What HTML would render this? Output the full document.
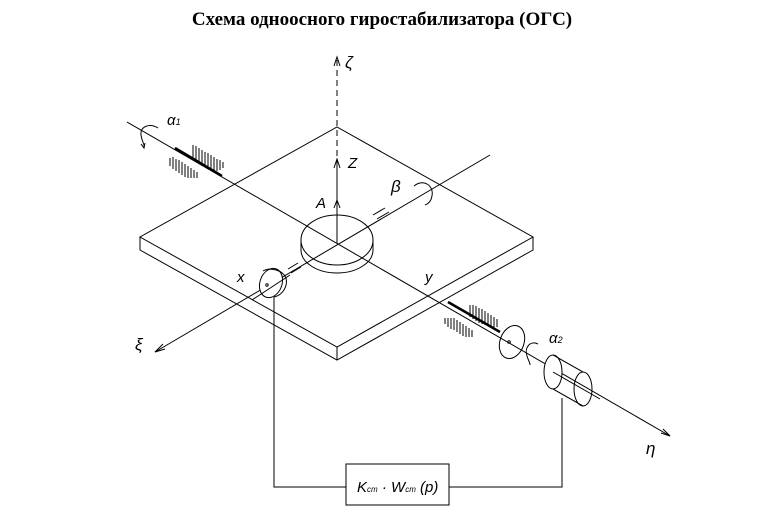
<!DOCTYPE html>
<html><head><meta charset="utf-8"><style>
body{margin:0;background:#fff;width:765px;height:513px;overflow:hidden}
svg{display:block}
text{font-family:"Liberation Sans",sans-serif;font-style:italic}
</style></head><body>
<svg width="765" height="513" viewBox="0 0 765 513" xmlns="http://www.w3.org/2000/svg">
<text x="382" y="25" text-anchor="middle" style="font-family:'Liberation Serif','Noto Serif CJK SC',serif;font-style:normal;font-weight:bold;font-size:19px">Схема одноосного гиростабилизатора (ОГС)</text>
<g fill="none" stroke="#000" stroke-width="1">
<!-- plate -->
<polygon points="337,127 533,237 337,347 140,237" fill="#fff"/>
<polyline points="140,237 140,250 337,360 533,250 533,237"/>
<line x1="337" y1="347" x2="337" y2="360"/>
<!-- disc -->
<path d="M301,240 L301,250 A36,23 0 0 0 373,250 L373,240" fill="#fff"/>
<ellipse cx="337" cy="240" rx="36" ry="25" fill="#fff"/>
<!-- zeta axis -->
<line x1="337" y1="60" x2="337" y2="160" stroke-dasharray="6,4"/>
<line x1="337" y1="160" x2="337" y2="243"/>
<path d="M334,66 L337,57 L340,66"/>
<path d="M334,168 L337,159 L340,168"/>
<path d="M334,208 L337,200 L340,208"/>
<!-- axes -->
<line x1="127" y1="122" x2="670" y2="436"/>
<path d="M661,433 L670,436 L663,429"/>
<line x1="155" y1="352" x2="490" y2="155"/>
<path d="M163,344 L155,352 L165,349"/>
<line x1="373" y1="215" x2="385" y2="208"/><line x1="377" y1="219" x2="389" y2="212"/>
<line x1="288" y1="269" x2="298" y2="263"/><line x1="291" y1="273" x2="301" y2="267"/>
<!-- left bearing -->
<line x1="175" y1="148" x2="222" y2="176" stroke-width="2.5"/>
<path d="M193,145 v15 M196,146 v16 M199,148 v16 M202,150 v16 M205,152 v15 M208,153 v15 M211,155 v14 M214,157 v13 M217,159 v12 M220,160 v10 M223,162 v6"/>
<path d="M170,158 v8 M173,157 v12 M176,159 v12 M179,160 v13 M182,162 v13 M185,164 v13 M188,166 v12 M191,168 v10 M194,170 v8 M197,172 v6"/>
<path d="M158,128 C150,123 140,126 141,135 C142,142 145,145 144,147"/>
<path d="M141,144 l3,4 l1,-5"/>
<!-- right bearing -->
<line x1="448" y1="302" x2="500" y2="332" stroke-width="2.5"/>
<path d="M470,305 v12 M473,305 v14 M476,306 v15 M479,308 v15 M482,309 v15 M485,311 v14 M488,313 v13 M491,315 v12 M494,317 v10 M497,319 v8"/>
<path d="M445,318 v6 M448,318 v9 M451,318 v11 M454,318 v12 M457,320 v12 M460,322 v12 M463,324 v12 M466,326 v11 M469,328 v9 M472,330 v7"/>
<ellipse cx="512" cy="342" rx="12" ry="17" transform="rotate(20 512 342)"/>
<circle cx="509" cy="342" r="1.3"/>
<path d="M538,344 C530,340 524,348 527,356 C528,360 530,362 530,365"/>
<!-- right cylinder -->
<path d="M553,355 L583,372 M553,389 L583,406"/>
<ellipse cx="553" cy="372" rx="9" ry="17" fill="#fff"/>
<path d="M553,355 L583,372 M553,389 L583,406"/>
<ellipse cx="583" cy="389" rx="9" ry="17"/>
<line x1="553" y1="372" x2="600" y2="399"/>
<!-- beta arc -->
<path d="M414,186 C424,178 434,186 432,196 C431,202 428,204 425,205"/>
<!-- left sensor -->
<ellipse cx="271" cy="283" rx="11" ry="15" transform="rotate(20 271 283)" fill="#fff"/>
<path d="M263,271 C270,267 283,270 286,278 C288,286 283,295 274,297"/>
<circle cx="267" cy="285" r="1.2"/>
<line x1="252" y1="300" x2="290" y2="275"/>
<!-- feedback -->
<polyline points="274,297 274,487 346,487"/>
<rect x="346" y="464" width="103" height="41"/>
<polyline points="449,487 562,487 562,398"/>
</g>
<g font-size="17">
<text x="345" y="68">ζ</text>
<text x="348" y="168" font-size="15">Z</text>
<text x="316" y="208" font-size="15">A</text>
<text x="391" y="192" font-size="17">β</text>
<text x="237" y="282" font-size="15">x</text>
<text x="425" y="282" font-size="15">y</text>
<text x="135" y="350">ξ</text>
<text x="646" y="454">η</text>
<text x="167" y="125" font-size="15">α<tspan font-size="9">1</tspan></text>
<text x="549" y="343" font-size="15">α<tspan font-size="9">2</tspan></text>
<text x="357" y="492" font-size="15">K<tspan font-size="8">cm</tspan> · W<tspan font-size="8">cm</tspan> (p)</text>
</g>
</svg>
</body></html>
